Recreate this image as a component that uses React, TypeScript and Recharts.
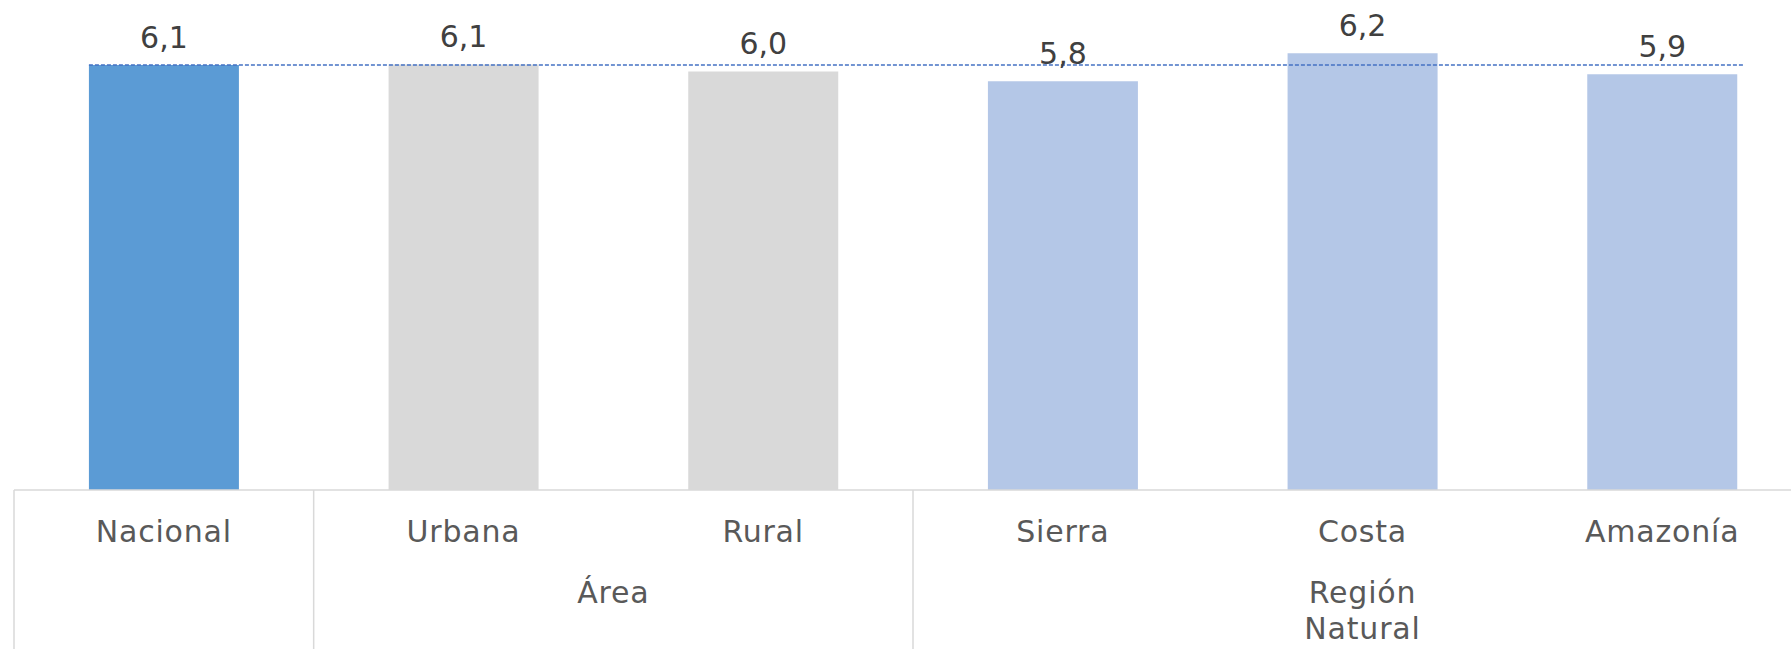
import React from "react";
import { BarChart, Bar, XAxis, YAxis, Cell, LabelList, ReferenceLine } from "recharts";

const categories = ["Nacional", "Urbana", "Rural", "Sierra", "Costa", "Amazonía"];
const values = [6.07, 6.08, 5.98, 5.84, 6.24, 5.94];
const groups = ["", "Área", "Área", "Región Natural", "Región Natural", "Región Natural"];
const groupLines: string[][] = [[], ["Área"], ["Área"], ["Región", "Natural"], ["Región", "Natural"], ["Región", "Natural"]];
const colors = ["#5B9BD5", "#D9D9D9", "#D9D9D9", "#B4C7E7", "#B4C7E7", "#B4C7E7"];
const positions = [0.5, 1.5, 2.5, 3.5, 4.5, 5.5];
const nationalValue = values[0];
const referenceSpan = [0.25, 5.77];

const data = categories.map((c, i) => ({ name: c, value: values[i], group: groups[i], pos: positions[i] }));

const FONT = "'DejaVu Sans', sans-serif";
const FS = 30;
const LS = 0.8;

const CustomTick = (props: any) => {
  const { x, y, payload, index } = props;
  const half = payload.offset ?? 0;
  const i = index as number;
  const left = x - half;
  const els: React.ReactNode[] = [];
  const isGroupStart = i === 0 || groups[i] !== groups[i - 1];
  if (isGroupStart) {
    els.push(<line key="l" x1={left} x2={left} y1={y} y2={y + 200} stroke="#D9D9D9" strokeWidth={1.5} />);
    let n = 1;
    while (i + n < groups.length && groups[i + n] === groups[i]) n++;
    const center = left + n * half;
    groupLines[i].forEach((t, k) => {
      els.push(
        <text key={"g" + k} x={center} y={y + 113 + k * 36} textAnchor="middle" fill="#595959" fontSize={FS} letterSpacing={LS} fontFamily={FONT}>
          {t}
        </text>
      );
    });
  }
  if (i === categories.length - 1) {
    els.push(<line key="r" x1={x + half} x2={x + half} y1={y} y2={y + 200} stroke="#D9D9D9" strokeWidth={1.5} />);
  }
  return (
    <g>
      {els}
      <text x={x} y={y + 52} textAnchor="middle" fill="#595959" fontSize={FS} letterSpacing={LS} fontFamily={FONT}>
        {payload.value}
      </text>
    </g>
  );
};

export default function App() {
  return (
    <div style={{ position: "fixed", left: 0, top: 0, width: 1791, height: 649, overflow: "hidden", background: "#fff" }}>
      <BarChart
        width={1812}
        height={649}
        data={data}
        margin={{ top: 0, right: 0, bottom: 0, left: 14 }}
        barCategoryGap="25%"
      >
        <XAxis
          dataKey="name"
          height={159}
          tickSize={0}
          tickMargin={0}
          tickLine={false}
          axisLine={{ stroke: "#D9D9D9", strokeWidth: 1.5 }}
          tick={<CustomTick />}
          interval={0}
        />
        <XAxis xAxisId="num" dataKey="pos" type="number" scale="linear" domain={[0, 6]} hide allowDataOverflow />
        <YAxis domain={[0, 7]} hide />
        <Bar dataKey="value" isAnimationActive={false}>
          {data.map((d, i) => (
            <Cell key={d.name} fill={colors[i]} />
          ))}
          <LabelList
            dataKey="value"
            position="top"
            offset={17}
            fill="#404040"
            fontSize={FS}
            fontFamily={FONT}
            formatter={(v: any) => Number(v).toFixed(1).replace(".", ",")}
          />
        </Bar>
        <ReferenceLine
          xAxisId="num"
          segment={[
            { x: referenceSpan[0], y: nationalValue },
            { x: referenceSpan[1], y: nationalValue },
          ]}
          stroke="#4472C4"
          strokeWidth={1.5}
          strokeDasharray="4 2"
          ifOverflow="visible"
        />
      </BarChart>
    </div>
  );
}
